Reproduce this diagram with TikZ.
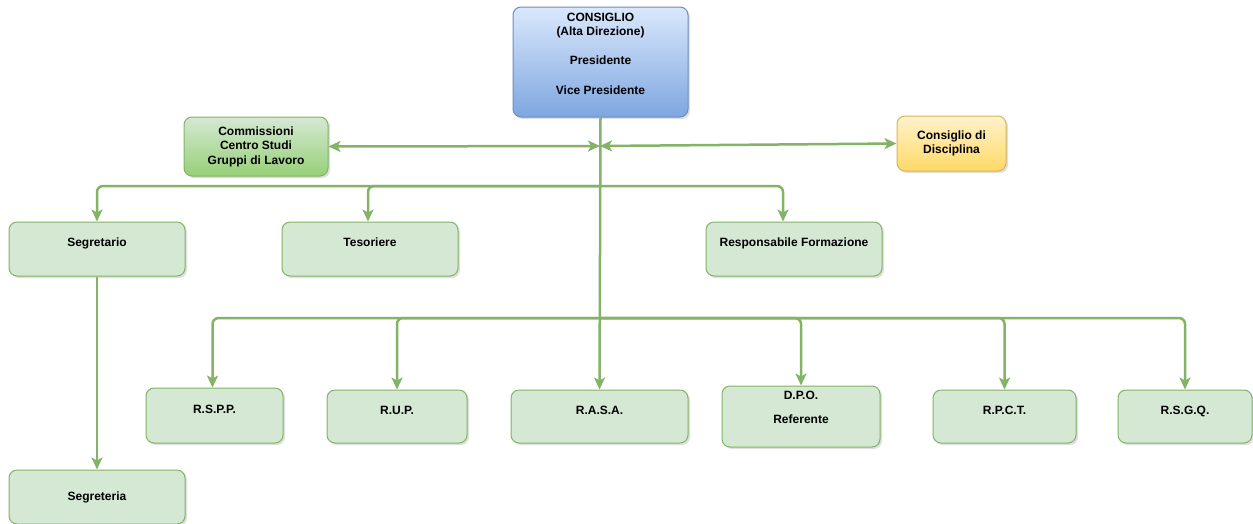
\documentclass[tikz,border=0pt]{standalone}
\usepackage{fontspec}
\setmainfont{Liberation Sans}
\usetikzlibrary{arrows.meta,shadows}
\definecolor{linkgreen}{HTML}{82B366}
\definecolor{boxgreen}{HTML}{D5E8D4}
\definecolor{leafgreen}{HTML}{97D077}
\definecolor{skyblue}{HTML}{DAE8FC}
\definecolor{deepblue}{HTML}{7EA6E0}
\definecolor{edgeblue}{HTML}{6C8EBF}
\definecolor{paleyellow}{HTML}{FFF2CC}
\definecolor{goldyellow}{HTML}{FFD966}
\definecolor{edgeyellow}{HTML}{D6B656}
\tikzset{
  office/.style={draw=linkgreen, fill=boxgreen, line width=1pt, rounded corners=8pt,
    inner sep=0pt, align=center, font=\bfseries\fontsize{12}{14.4}\selectfont,
    drop shadow={shadow xshift=2pt, shadow yshift=-2pt, opacity=0.25}},
  raised/.style={text height=9pt, text depth=14pt},
  link/.style={draw=linkgreen, line width=2.5pt, rounded corners=6pt, -{Stealth[length=12pt, width=11pt, inset=3pt]}},
  twoway/.style={link, {Stealth[length=12pt, width=11pt, inset=3pt]}-{Stealth[length=12pt, width=11pt, inset=3pt]}}
}
\begin{document}
\begin{tikzpicture}[x=1pt, y=-1pt]
\useasboundingbox (0, 0) rectangle (1253, 523);

\node [office, draw=edgeblue, top color=skyblue, bottom color=deepblue, text depth=16pt,
       minimum width=175pt, minimum height=110pt] (cons) at (600.5, 62)
  {CONSIGLIO\\(Alta Direzione)\\[14pt]Presidente\\[16pt]Vice Presidente};
\node [office, top color=boxgreen, bottom color=leafgreen,
       minimum width=144pt, minimum height=59pt] (comm) at (256, 146.5)
  {Commissioni\\Centro Studi\\Gruppi di Lavoro};
\node [office, draw=edgeyellow, top color=paleyellow, bottom color=goldyellow,
       minimum width=109pt, minimum height=55pt] (disc) at (951.5, 143.5)
  {Consiglio di\\Disciplina};

%%%%%%%%%%%%%%%%%%%%%%%%%%%%%%%%%%%%%%%%

\node [office, raised, minimum width=176pt, minimum height=54pt] (segr)  at (97, 249)  {Segretario};
\node [office, raised, minimum width=176pt, minimum height=54pt] (teso)  at (370, 249) {Tesoriere};
\node [office, raised, minimum width=176pt, minimum height=54pt] (resp)  at (794, 249) {Responsabile Formazione};
\node [office, minimum width=176pt, minimum height=54pt]         (segrt) at (97, 497)  {Segreteria};

\node [office, raised, minimum width=137pt, minimum height=55pt] (rspp) at (214.5, 415.5) {R.S.P.P.};
\node [office, raised, minimum width=140pt, minimum height=53pt] (rup)  at (397, 416.5)   {R.U.P.};
\node [office, raised, minimum width=177pt, minimum height=53pt] (rasa) at (599.5, 416.5) {R.A.S.A.};
\node [office, text depth=18pt, minimum width=158pt, minimum height=61pt] (dpo) at (801, 416.5)
  {D.P.O.\\[10pt]Referente};
\node [office, raised, minimum width=143pt, minimum height=53pt] (rpct) at (1004.5, 416.5) {R.P.C.T.};
\node [office, raised, minimum width=134pt, minimum height=53pt] (rsgq) at (1185, 416.5)   {R.S.G.Q.};

%%%%%%%%%%%%%%%%%%%%%%%%%%%%%%%%%%%%%%%%

\path (600, 146) coordinate (hub)
      (600, 186) coordinate (upper)
      (600, 318) coordinate (lower);

\draw [link] (cons.south) -- (rasa.north);
\draw [twoway] (comm.east) -- (hub);
\draw [twoway] (hub) -- (disc.west);

\draw [link] (upper) -| (segr.north);
\draw [link] (upper) -| ([xshift=-2pt]teso.north);
\draw [link] (upper) -| ([xshift=-11pt]resp.north);
\draw [link] (segr.south) -- (segrt.north);

\draw [link] (lower) -| ([xshift=-2pt]rspp.north);
\draw [link] (lower) -| (rup.north);
\draw [link] (lower) -| (dpo.north);
\draw [link] (lower) -| (rpct.north);
\draw [link] (lower) -| (rsgq.north);

\end{tikzpicture}
\end{document}
